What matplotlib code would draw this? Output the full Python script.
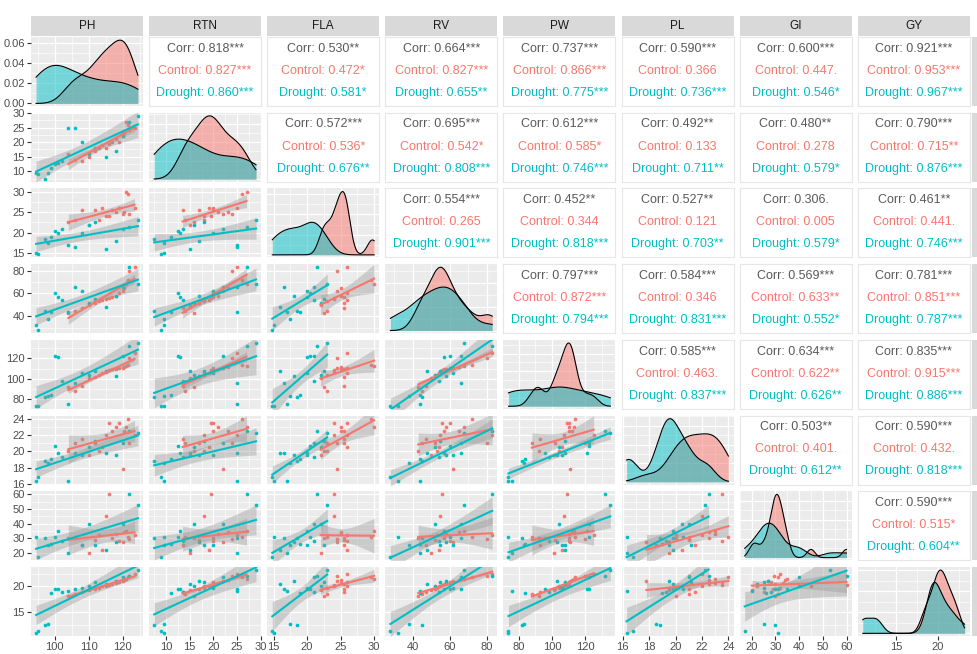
import numpy as np
import matplotlib
matplotlib.use('Agg')
import matplotlib.pyplot as plt
from matplotlib.ticker import FixedLocator, AutoMinorLocator, MultipleLocator, FormatStrFormatter, MaxNLocator

plt.rcParams['font.family'] = ['Liberation Sans', 'DejaVu Sans']

variables = ['PH', 'RTN', 'FLA', 'RV', 'PW', 'PL', 'GI', 'GY']

# trait values per plant, one list per treatment
ph_control = [104, 106, 108, 110, 112, 113, 114, 115, 116, 117, 118, 119, 120, 120.5, 121, 121.5, 122, 123.5]
ph_drought = [94.5, 95, 97, 98, 99, 100, 101, 102, 104, 106, 108, 110, 112, 115, 118, 120, 122, 124.5]

rtn_control = [16, 14, 13.5, 15, 17, 18, 19, 18, 19.5, 20, 21, 20, 22, 23, 27, 26, 24, 25]
rtn_drought = [9.5, 9, 7.5, 9.5, 11, 12.5, 13, 13.5, 25, 25, 20, 16, 18, 15, 17, 22, 27, 29]

fla_control = [22.5, 23, 25.5, 22, 25.5, 23, 26, 24, 24, 25.5, 25, 26, 24.5, 25, 30, 29.5, 24.5, 26]
fla_drought = [15, 14.8, 18.5, 17.5, 19, 20.5, 20, 21, 17, 16.5, 20, 22, 22.5, 16, 18, 21, 21.5, 23]

rv_control = [43, 45, 47, 50, 52, 53, 54, 55, 56, 57, 58, 60, 62, 65, 68, 72, 80, 83]
rv_drought = [32, 28, 45, 38, 44, 60, 57, 54, 44, 66, 62, 52, 55, 48, 58, 66, 83, 68]

pw_control = [92, 88, 93, 101, 102, 104, 106, 107, 109, 110, 110, 110.5, 111, 112, 113, 114, 120, 125]
pw_drought = [74, 74, 82, 83, 84, 122, 121, 98, 76, 96, 106, 104, 108, 108, 103, 122, 132, 135]

pl_control = [20, 21, 21.5, 19.5, 21, 20, 20.5, 22, 23.5, 22.5, 23, 23.5, 17.8, 22.5, 23, 24, 21, 22]
pl_drought = [16.3, 16.8, 18.8, 18.5, 19, 20.6, 19.8, 19.3, 16.3, 19.8, 19.5, 20.5, 21.2, 19.8, 19.5, 21, 22.5, 22.2]

gi_control = [30, 31, 25, 20, 29, 32, 22, 45, 60, 30, 33, 28, 27, 34, 35, 31, 29.5, 32]
gi_drought = [31, 17, 30, 25, 26, 31, 35, 28, 20, 30, 25, 40, 25, 22, 27, 40, 60, 53]

gy_control = [18.2, 18.6, 19.0, 19.3, 19.6, 19.8, 20.0, 20.1, 20.3, 20.4, 20.6, 20.8, 21.0, 21.2, 21.5, 21.8, 22.1, 22.5]
gy_drought = [11, 11.3, 12.5, 12.8, 18.8, 19.5, 19.6, 19, 19.2, 19.5, 19.8, 20, 20.8, 20.5, 21, 21.8, 22, 23.2]

data = {
    'PH': (ph_control, ph_drought),
    'RTN': (rtn_control, rtn_drought),
    'FLA': (fla_control, fla_drought),
    'RV': (rv_control, rv_drought),
    'PW': (pw_control, pw_drought),
    'PL': (pl_control, pl_drought),
    'GI': (gi_control, gi_drought),
    'GY': (gy_control, gy_drought),
}

axis_ticks = {
    'PH': [100, 110, 120],
    'RTN': [10, 15, 20, 25, 30],
    'FLA': [15, 20, 25, 30],
    'RV': [40, 60, 80],
    'PW': [80, 100, 120],
    'PL': [16, 18, 20, 22, 24],
    'GI': [20, 30, 40, 50, 60],
    'GY': [15, 20],
}

# correlation labels for the upper triangle, row by row
corr_all = ['0.818***', '0.530**', '0.664***', '0.737***', '0.590***', '0.600***', '0.921***',
            '0.572***', '0.695***', '0.612***', '0.492**', '0.480**', '0.790***',
            '0.554***', '0.452**', '0.527**', '0.306.', '0.461**',
            '0.797***', '0.584***', '0.569***', '0.781***',
            '0.585***', '0.634***', '0.835***',
            '0.503**', '0.590***',
            '0.590***']
corr_control = ['0.827***', '0.472*', '0.827***', '0.866***', '0.366', '0.447.', '0.953***',
                '0.536*', '0.542*', '0.585*', '0.133', '0.278', '0.715**',
                '0.265', '0.344', '0.121', '0.005', '0.441.',
                '0.872***', '0.346', '0.633**', '0.851***',
                '0.463.', '0.622**', '0.915***',
                '0.401.', '0.432.',
                '0.515*']
corr_drought = ['0.860***', '0.581*', '0.655**', '0.775***', '0.736***', '0.546*', '0.967***',
                '0.676**', '0.808***', '0.746***', '0.711**', '0.579*', '0.876***',
                '0.901***', '0.818***', '0.703**', '0.579*', '0.746***',
                '0.794***', '0.831***', '0.552*', '0.787***',
                '0.837***', '0.626**', '0.886***',
                '0.612**', '0.818***',
                '0.604**']

RED = '#F8766D'
CYAN = '#00BFC4'
T975 = 2.12  # t quantile, df = 16

W, H = 977, 654
fig = plt.figure(figsize=(W / 100, H / 100), dpi=100)


def px_axes(x, y_top, w, h):
    return fig.add_axes([x / W, 1 - (y_top + h) / H, w / W, h / H])


def limits(var):
    vals = np.concatenate([np.asarray(v, float) for v in data[var]])
    lo, hi = vals.min(), vals.max()
    pad = 0.05 * (hi - lo)
    return lo - pad, hi + pad


def kde(vals, grid):
    v = np.asarray(vals, float)
    n = len(v)
    q75, q25 = np.percentile(v, [75, 25])
    bw = 0.9 * min(v.std(ddof=1), (q75 - q25) / 1.34) * n ** -0.2
    z = (grid[:, None] - v[None, :]) / bw
    return np.exp(-0.5 * z ** 2).sum(axis=1) / (n * bw * np.sqrt(2 * np.pi))


def fit_band(x, y, xs):
    x = np.asarray(x, float)
    y = np.asarray(y, float)
    n = len(x)
    xm = x.mean()
    sxx = ((x - xm) ** 2).sum()
    b1 = ((x - xm) * (y - y.mean())).sum() / sxx
    b0 = y.mean() - b1 * xm
    s = np.sqrt(((y - b0 - b1 * x) ** 2).sum() / (n - 2))
    fit = b0 + b1 * xs
    se = s * np.sqrt(1 / n + (xs - xm) ** 2 / sxx)
    return fit, fit - T975 * se, fit + T975 * se


def grey_panel(ax):
    ax.set_facecolor('#EBEBEB')
    for sp in ax.spines.values():
        sp.set_visible(False)
    ax.set_axisbelow(True)
    ax.grid(which='major', color='white', lw=0.9)
    ax.grid(which='minor', color='white', lw=0.45)
    ax.tick_params(which='both', length=0, labelbottom=False, labelleft=False)
    ax.tick_params(which='major', color='#333333', labelsize=8, labelcolor='#4D4D4D', pad=1.5)


col_x = [31 + i * 118.1 for i in range(8)]
row_y = [37 + j * 75.7 for j in range(8)]
pw_, ph_ = 112, 69

k = 0
for r, yvar in enumerate(variables):
    for c, xvar in enumerate(variables):
        ax = px_axes(col_x[c], row_y[r], pw_, ph_)
        if c > r:
            # correlation text
            ax.set_xticks([])
            ax.set_yticks([])
            ax.set_facecolor('white')
            for sp in ax.spines.values():
                sp.set_color('#E6E6E6')
                sp.set_linewidth(0.8)
            ax.text(0.5, 0.83, 'Corr: ' + corr_all[k], color='#595959', ha='center', va='center',
                    fontsize=9, transform=ax.transAxes)
            ax.text(0.5, 0.51, 'Control: ' + corr_control[k], color=RED, ha='center', va='center',
                    fontsize=9, transform=ax.transAxes)
            ax.text(0.5, 0.19, 'Drought: ' + corr_drought[k], color=CYAN, ha='center', va='center',
                    fontsize=9, transform=ax.transAxes)
            k += 1
            continue

        grey_panel(ax)
        xlo, xhi = limits(xvar)
        ax.set_xlim(xlo, xhi)
        ax.xaxis.set_major_locator(FixedLocator(axis_ticks[xvar]))
        ax.xaxis.set_minor_locator(AutoMinorLocator(2))

        if c == r:
            grid = np.linspace(xlo + 0.05 / 1.1 * (xhi - xlo), xhi - 0.05 / 1.1 * (xhi - xlo), 512)
            top = 0
            for vals, col in zip(data[xvar], (RED, CYAN)):
                d = kde(vals, grid)
                top = max(top, d.max())
                ax.fill_between(grid, 0, d, color=col, alpha=0.5, lw=0)
                ax.plot(grid, d, color='black', lw=0.8)
            ax.set_ylim(-0.04 * top, top * 1.05)
            if r == 0:
                ax.yaxis.set_major_locator(MultipleLocator(0.02))
                ax.yaxis.set_major_formatter(FormatStrFormatter('%.2f'))
            else:
                ax.yaxis.set_major_locator(MaxNLocator(4))
            ax.yaxis.set_minor_locator(AutoMinorLocator(2))
        else:
            ylo, yhi = limits(yvar)
            ax.set_ylim(ylo, yhi)
            ax.yaxis.set_major_locator(FixedLocator(axis_ticks[yvar]))
            ax.yaxis.set_minor_locator(AutoMinorLocator(2))
            for g, col in enumerate((RED, CYAN)):
                ax.scatter(data[xvar][g], data[yvar][g], s=7, color=col, lw=0, zorder=2)
            for g, col in enumerate((RED, CYAN)):
                xs_g = np.asarray(data[xvar][g], float)
                xs = np.linspace(xs_g.min(), xs_g.max(), 80)
                fit, lo, hi = fit_band(xs_g, data[yvar][g], xs)
                ax.fill_between(xs, lo, hi, color='#999999', alpha=0.4, lw=0, zorder=3)
                ax.plot(xs, fit, color=col, lw=1.5, zorder=4)

        if c == 0:
            ax.tick_params(axis='y', which='major', length=3, labelleft=True)
        if r == 7:
            ax.tick_params(axis='x', which='major', length=3, labelbottom=True)

# strips along the top and the right side
for i, name in enumerate(variables):
    sx = px_axes(col_x[i], 16, pw_, 20)
    sx.set_facecolor('#D9D9D9')
    sx.set_xticks([])
    sx.set_yticks([])
    for sp in sx.spines.values():
        sp.set_visible(False)
    sx.text(0.5, 0.5, name, ha='center', va='center', fontsize=8.5, color='#1A1A1A',
            transform=sx.transAxes)

    sy = px_axes(col_x[7] + pw_ + 2, row_y[i], 20, ph_)
    sy.set_facecolor('#D9D9D9')
    sy.set_xticks([])
    sy.set_yticks([])
    for sp in sy.spines.values():
        sp.set_visible(False)
    sy.text(0.5, 0.5, name, ha='center', va='center', fontsize=8.5, color='#1A1A1A',
            rotation=-90, transform=sy.transAxes)

fig.savefig('out.png', dpi=100)
